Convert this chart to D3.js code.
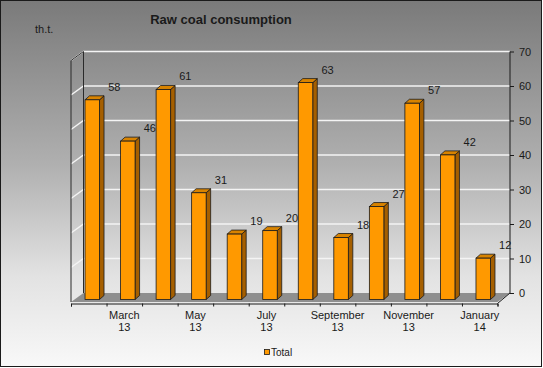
<!DOCTYPE html>
<html lang="en">
  <head>
    <meta charset="utf-8" />
    <title>Raw coal consumption</title>
    <script src="https://d3js.org/d3.v7.min.js" charset="utf-8"></script>
    <style>
      body { margin: 0; background: #fff; }
      text { font-family: "Liberation Sans", Arial, sans-serif; fill: #1a1a1a; }
    </style>
  </head>
  <body>
    <div id="chart"></div>
    <script type="text/javascript">
      const months = ["Feb 13", "Mar 13", "Apr 13", "May 13", "Jun 13", "Jul 13",
        "Aug 13", "Sep 13", "Oct 13", "Nov 13", "Dec 13", "Jan 14"];
      const monthLabels = ["", "March", "", "May", "", "July", "", "September", "", "November", "", "January"];
      const yearLabels = ["", "13", "", "13", "", "13", "", "13", "", "13", "", "14"];
      const totals = [58, 46, 61, 31, 19, 20, 63, 18, 27, 57, 42, 12];
      const yTicks = [0, 10, 20, 30, 40, 50, 60, 70];

      const cW = 543, cH = 368;
      // depth offset of the 3d box (front -> back)
      const dX = 12.5, dY = -9;
      const frontL = 71, frontR = 497.5, frontB = 302;
      const barShift = 3.5, barW = 14.5, sideX = 4.5, sideY = 4;

      const svg = d3.select("#chart").append("svg")
        .attr("width", cW).attr("height", cH);

      const grad = svg.append("defs").append("linearGradient")
        .attr("id", "bg").attr("x1", 0).attr("y1", 0).attr("x2", 0).attr("y2", 1);
      [[0, "#7a7a7a"], [0.45, "#b0b0b0"], [0.75, "#e2e2e2"], [1, "#f8f8f8"]].forEach((s) => {
        grad.append("stop").attr("offset", s[0]).attr("stop-color", s[1]);
      });

      svg.append("rect").attr("x", 0.5).attr("y", 0.5)
        .attr("width", cW - 2).attr("height", cH - 2)
        .attr("fill", "url(#bg)").attr("stroke", "#1a1a1a");
      svg.append("line").attr("x1", 1).attr("x2", cW - 1).attr("y1", cH - 1.5).attr("y2", cH - 1.5)
        .attr("stroke", "#1a1a1a");
      svg.append("line").attr("x1", cW - 1.5).attr("x2", cW - 1.5).attr("y1", 1).attr("y2", cH - 1)
        .attr("stroke", "#1a1a1a");

      // scales
      const x = d3.scaleBand().domain(months).range([frontL, frontR]);
      const xEdge = d3.scaleLinear().domain([0, months.length]).range([frontL, frontR]);
      const yBack = d3.scaleLinear().domain([0, 70]).range([frontB + dY, 51.5]);
      const yBar = d3.scaleLinear().domain([0, 70]).range([299.5, 58.5]);

      const backL = frontL + dX, backR = frontR + dX;

      // floor
      svg.append("polygon")
        .attr("points", [[frontL, frontB], [backL, frontB + dY], [backR, frontB + dY], [frontR, frontB]].join(" "))
        .attr("fill", "#8f8f8f");

      // gridlines on back wall and left wall
      yTicks.forEach((t) => {
        const gy = yBack(t);
        svg.append("polyline")
          .attr("points", [[frontL, gy - dY], [backL, gy], [backR, gy]].join(" "))
          .attr("fill", "none").attr("stroke", t === 0 ? "none" : "#f4f4f4").attr("stroke-width", 1.5);
      });

      // left wall edges
      svg.append("polyline")
        .attr("points", [[frontL, frontB], [frontL, yBack(70) - dY], [backL, yBack(70)], [backL, frontB + dY]].join(" "))
        .attr("fill", "none").attr("stroke", "#2a2a2a");

      // right axis
      const yAxis = d3.axisRight(yBack).tickValues(yTicks).tickSize(4).tickPadding(5);
      const gy = svg.append("g").attr("transform", `translate(${backR},0)`).call(yAxis);
      gy.select(".domain").remove();
      gy.selectAll(".tick line").attr("stroke", "#1a1a1a");
      gy.selectAll(".tick text").style("font-size", "11px").attr("fill", "#1a1a1a");
      svg.append("polyline")
        .attr("points", [[backR, yBack(70)], [backR, frontB + dY], [frontR, frontB + 1.5]].join(" "))
        .attr("fill", "none").attr("stroke", "#1a1a1a");

      // bottom axis
      const xAxis = d3.axisBottom(xEdge).tickValues(d3.range(0, months.length + 1))
        .tickSize(3).tickFormat("");
      const gx = svg.append("g").attr("transform", `translate(0,${frontB + 1.5})`).call(xAxis);
      gx.select(".domain").attr("stroke", "#1a1a1a");
      gx.selectAll(".tick line").attr("stroke", "#1a1a1a");

      const xl = svg.append("g").selectAll("text").data(months).enter().append("text")
        .attr("text-anchor", "middle").style("font-size", "11px");
      xl.append("tspan").attr("x", (d) => x(d) + x.bandwidth() / 2).attr("y", 319)
        .text((d, i) => monthLabels[i]);
      xl.append("tspan").attr("x", (d) => x(d) + x.bandwidth() / 2).attr("y", 331)
        .text((d, i) => yearLabels[i]);

      // bars
      const bars = svg.append("g").selectAll("g").data(totals).enter().append("g");
      const bx = (i) => x(months[i]) + x.bandwidth() / 2 + barShift - barW / 2;

      bars.append("polygon")
        .attr("points", (d, i) => {
          const l = bx(i) + barW, t = yBar(d), b = yBar(0);
          return [[l, t], [l + sideX, t - sideY], [l + sideX, b - sideY], [l, b]].join(" ");
        })
        .attr("fill", "#a55f00").attr("stroke", "#1a1a1a").attr("stroke-width", 0.8);
      bars.append("polygon")
        .attr("points", (d, i) => {
          const l = bx(i), t = yBar(d);
          return [[l, t], [l + sideX, t - sideY], [l + barW + sideX, t - sideY], [l + barW, t]].join(" ");
        })
        .attr("fill", "#d88300").attr("stroke", "#1a1a1a").attr("stroke-width", 0.8);
      bars.append("rect")
        .attr("x", (d, i) => bx(i)).attr("y", (d) => yBar(d))
        .attr("width", barW).attr("height", (d) => yBar(0) - yBar(d))
        .attr("fill", "#ff9900").attr("stroke", "#1a1a1a").attr("stroke-width", 0.8);

      // value labels
      svg.append("g").selectAll("text").data(totals).enter().append("text")
        .attr("x", (d, i) => bx(i) + barW / 2 + 22)
        .attr("y", (d) => yBar(d) - 9)
        .attr("text-anchor", "middle").style("font-size", "11px")
        .text((d) => d);

      // title and unit
      svg.append("text").attr("x", 221).attr("y", 24).attr("text-anchor", "middle")
        .style("font-size", "13px").style("font-weight", "bold").text("Raw coal consumption");
      svg.append("text").attr("x", 35).attr("y", 33).style("font-size", "11px").text("th.t.");

      // legend
      svg.append("rect").attr("x", 264.5).attr("y", 349.5).attr("width", 5).attr("height", 5)
        .attr("fill", "#ff9900").attr("stroke", "#1a1a1a").attr("stroke-width", 0.8);
      svg.append("text").attr("x", 271).attr("y", 356).style("font-size", "10px").text("Total");
    </script>
  </body>
</html>
